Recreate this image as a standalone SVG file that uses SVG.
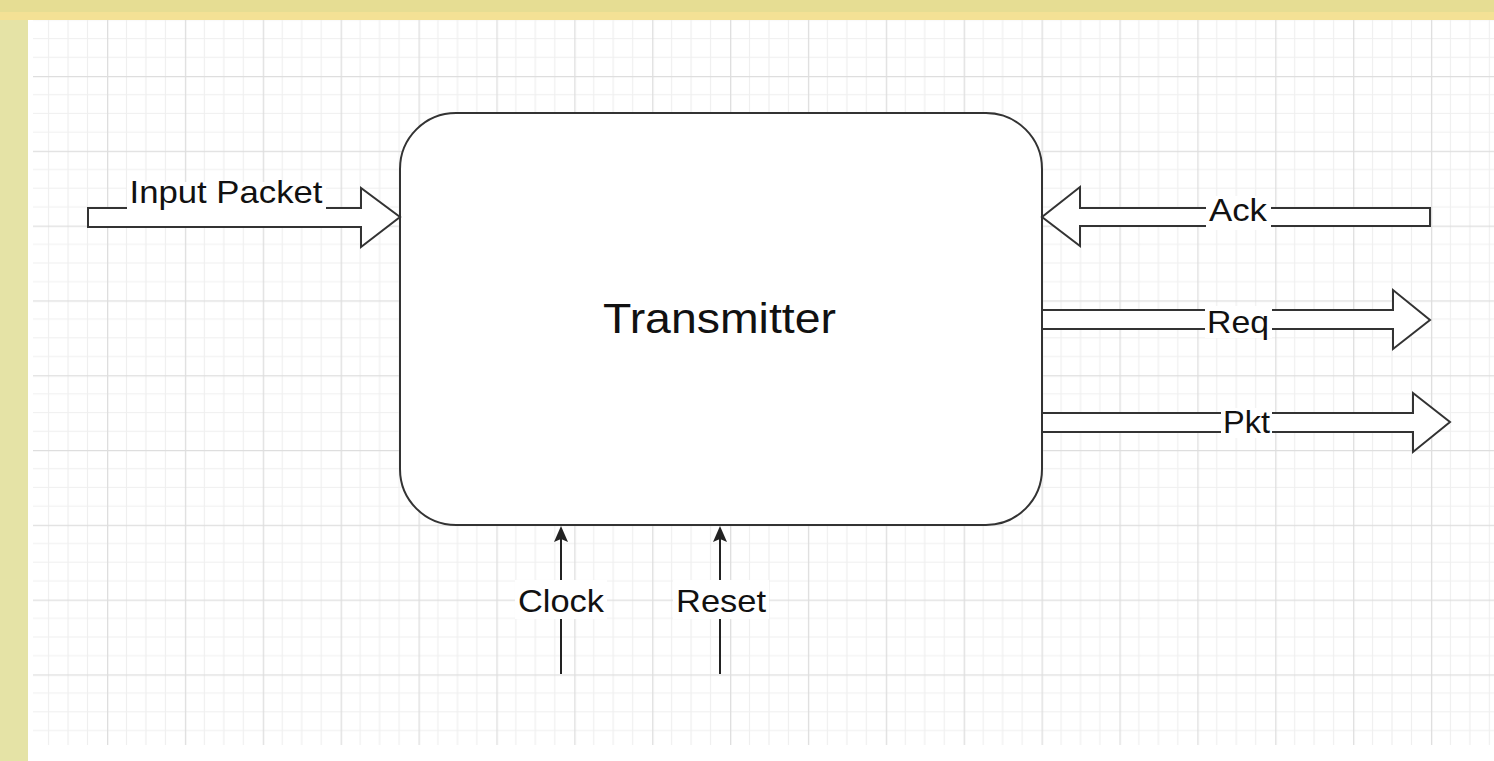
<svg xmlns="http://www.w3.org/2000/svg" width="1494" height="761" viewBox="0 0 1494 761">
<defs>
<style>
.lbl{font-family:"Liberation Sans",Arial,sans-serif;font-size:32px;fill:#111;text-anchor:middle}
.big{font-size:43px}
.arr{fill:#fff;stroke:#333;stroke-width:2;stroke-linejoin:miter}
.bg{fill:#fff;stroke:none}
.ln{stroke:#222;stroke-width:2;fill:none}
.hd{fill:#222;stroke:none}
</style>
<pattern id="grid" patternUnits="userSpaceOnUse" x="107" y="76" width="77.88" height="74.8">
<g stroke="#efefef" stroke-width="1.2">
<line x1="19.47" y1="0" x2="19.47" y2="74.8"/>
<line x1="38.94" y1="0" x2="38.94" y2="74.8"/>
<line x1="58.41" y1="0" x2="58.41" y2="74.8"/>
<line x1="0" y1="18.7" x2="77.88" y2="18.7"/>
<line x1="0" y1="37.4" x2="77.88" y2="37.4"/>
<line x1="0" y1="56.1" x2="77.88" y2="56.1"/>
</g>
<g stroke="#dedede" stroke-width="1.6">
<line x1="0.5" y1="0" x2="0.5" y2="74.8"/>
<line x1="0" y1="0.5" x2="77.88" y2="0.5"/>
</g>
</pattern>
</defs>
<rect x="0" y="0" width="1494" height="761" fill="#fff"/>
<rect x="33" y="20" width="1461" height="725" fill="url(#grid)"/>
<rect x="0" y="0" width="1494" height="12" fill="#e6dd93"/>
<rect x="0" y="12" width="1494" height="8" fill="#f4e195"/>
<rect x="0" y="20" width="28" height="741" fill="#e5e3a6"/>

<g id="transmitter">
<rect x="400" y="113" width="642" height="412" rx="56" ry="56" fill="#fff" stroke="#333" stroke-width="2"/>
<text class="lbl big" x="719.5" y="333" textLength="233" lengthAdjust="spacingAndGlyphs">Transmitter</text>
</g>

<g id="connectors">
<g id="input-packet">
<polygon class="arr" points="88,208 361,208 361,188 400,217 361,247 361,227 88,227"/>
<rect class="bg" x="127" y="182" width="199" height="28"/>
<text class="lbl" x="226" y="203" textLength="193" lengthAdjust="spacingAndGlyphs">Input Packet</text>
</g>
<g id="ack">
<polygon class="arr" points="1430,208 1080,208 1080,187 1042,217 1080,246 1080,226 1430,226"/>
<rect class="bg" x="1206" y="196" width="65" height="34"/>
<text class="lbl" x="1238" y="221" textLength="58" lengthAdjust="spacingAndGlyphs">Ack</text>
</g>
<g id="req">
<polygon class="arr" points="1042,310 1393,310 1393,290 1430,320 1393,349 1393,329 1042,329"/>
<rect class="bg" x="1205" y="306" width="67" height="32"/>
<text class="lbl" x="1238" y="333" textLength="62" lengthAdjust="spacingAndGlyphs">Req</text>
</g>
<g id="pkt">
<polygon class="arr" points="1042,413 1413,413 1413,393 1450,422 1413,452 1413,432 1042,432"/>
<rect class="bg" x="1221" y="408" width="51" height="30"/>
<text class="lbl" x="1246.5" y="433" textLength="47" lengthAdjust="spacingAndGlyphs">Pkt</text>
</g>
<g id="clock">
<line class="ln" x1="561" y1="674" x2="561" y2="538"/>
<path class="hd" d="M561,526 L568,542 L561,539 L554,542 Z"/>
<rect class="bg" x="515" y="580" width="92" height="39"/>
<text class="lbl" x="561" y="612" textLength="86" lengthAdjust="spacingAndGlyphs">Clock</text>
</g>
<g id="reset">
<line class="ln" x1="720" y1="674" x2="720" y2="538"/>
<path class="hd" d="M720,526 L727,542 L720,539 L713,542 Z"/>
<rect class="bg" x="673" y="580" width="96" height="39"/>
<text class="lbl" x="721" y="612" textLength="90" lengthAdjust="spacingAndGlyphs">Reset</text>
</g>
</g>
</svg>
